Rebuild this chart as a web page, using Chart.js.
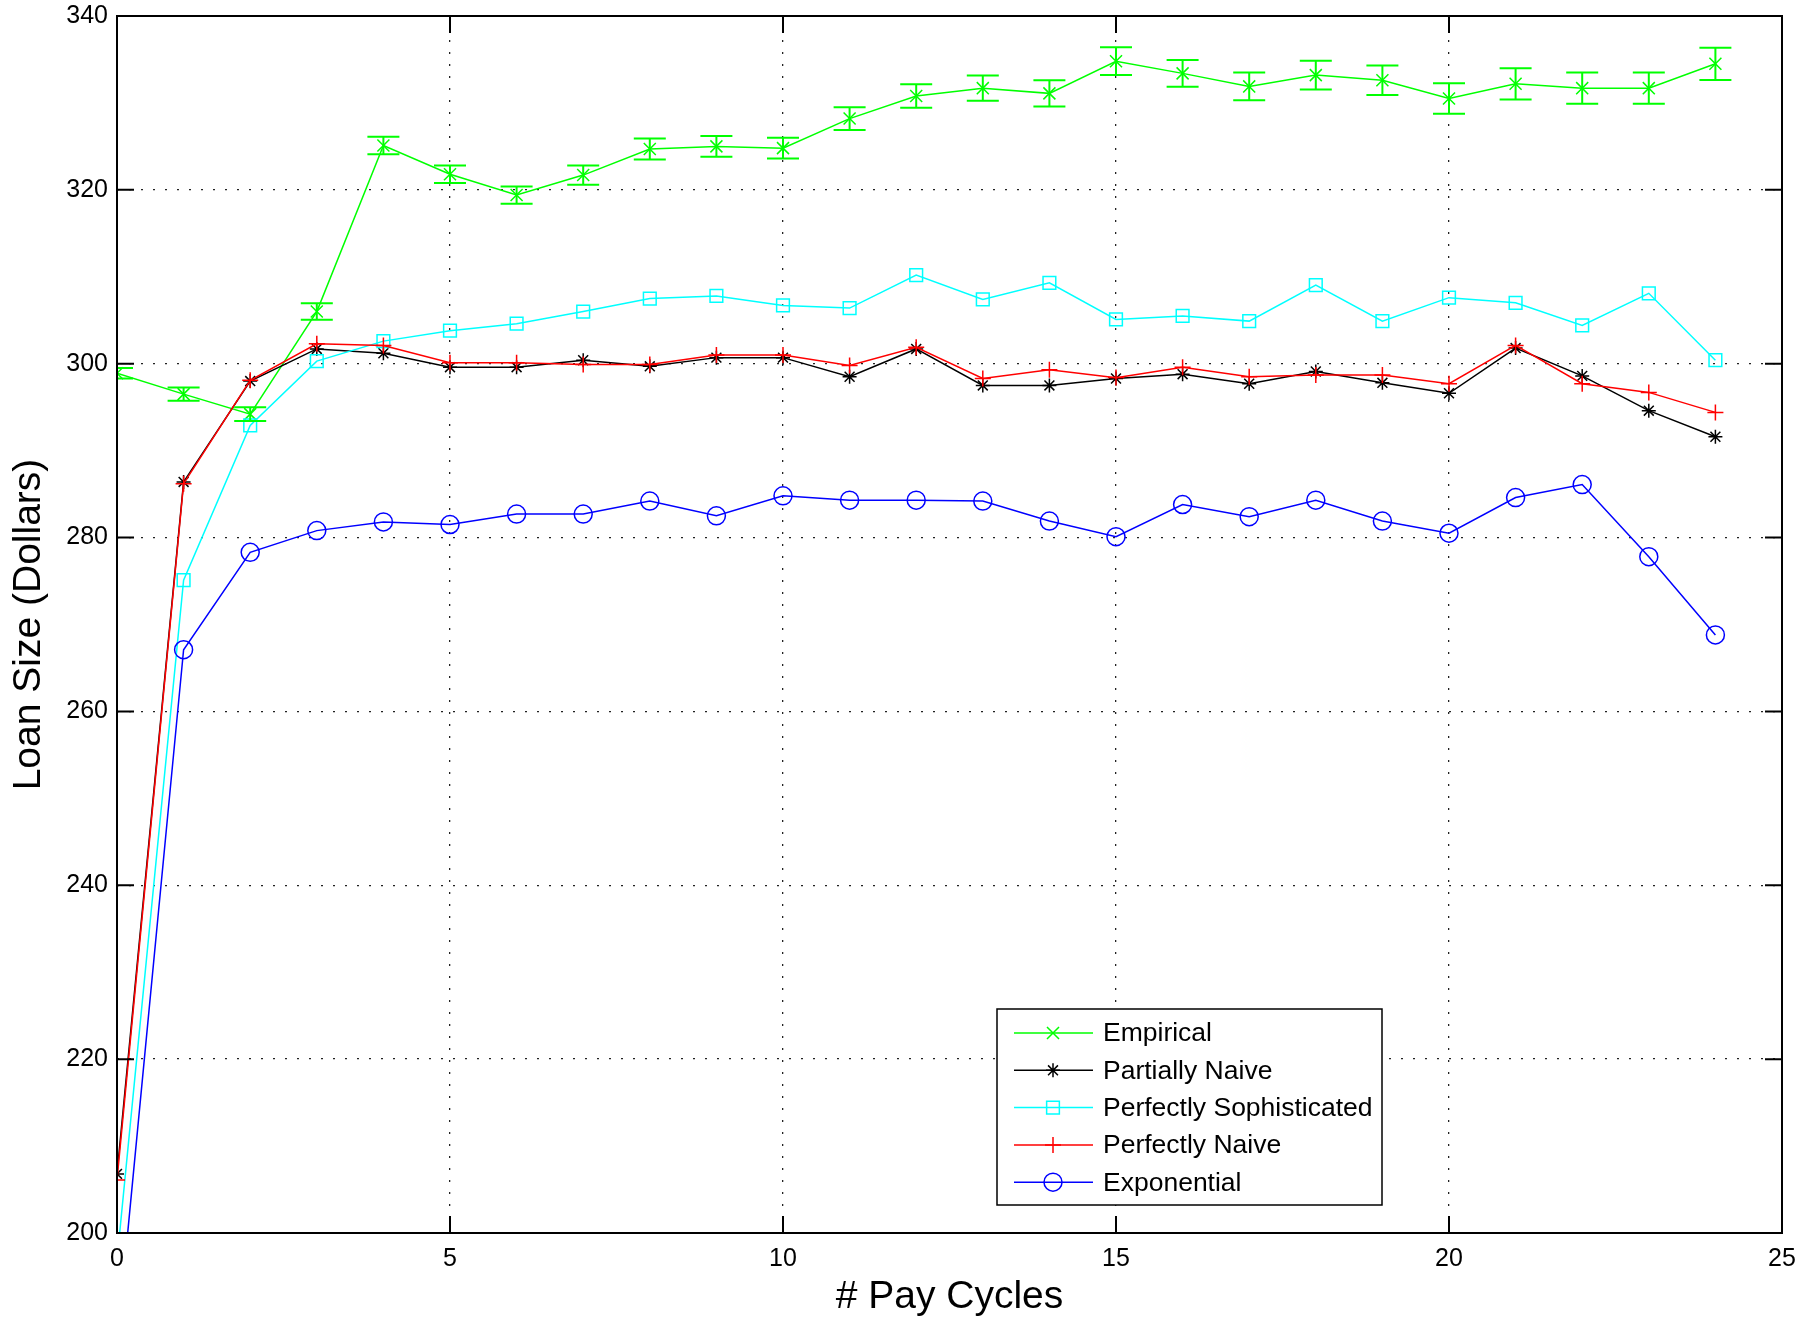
<!DOCTYPE html>
<html>
<head>
<meta charset="utf-8">
<script src="https://cdn.jsdelivr.net/npm/chart.js@4"></script>
<style>
  body { margin: 0; background: #fff; }
  canvas { display: block; }
</style>
</head>
<body>
<canvas id="loanChart" width="1817" height="1317"></canvas>
<script>
var cycles = [0, 1, 2, 3, 4, 5, 6, 7, 8, 9, 10, 11, 12, 13, 14, 15, 16, 17, 18, 19, 20, 21, 22, 23, 24];
var empirical = [298.9, 296.5, 294.2, 306.0, 325.1, 321.8, 319.4, 321.7, 324.7, 325.0, 324.8, 328.2, 330.8, 331.7, 331.1, 334.8, 333.4, 331.9, 333.2, 332.6, 330.5, 332.2, 331.7, 331.7, 334.5];
var empiricalErr = [0.6, 0.75, 0.8, 0.95, 1.0, 1.0, 1.0, 1.1, 1.2, 1.2, 1.2, 1.3, 1.35, 1.45, 1.5, 1.6, 1.55, 1.6, 1.65, 1.7, 1.75, 1.8, 1.8, 1.8, 1.85];
var partiallyNaive = [206.8, 286.4, 298.0, 301.7, 301.2, 299.6, 299.6, 300.4, 299.7, 300.7, 300.7, 298.5, 301.7, 297.5, 297.5, 298.3, 298.8, 297.7, 299.1, 297.8, 296.6, 301.8, 298.6, 294.6, 291.6];
var sophisticated = [196.9, 275.1, 292.9, 300.3, 302.6, 303.8, 304.6, 306.0, 307.5, 307.8, 306.7, 306.4, 310.2, 307.4, 309.3, 305.1, 305.5, 304.9, 309.05, 304.9, 307.6, 307.0, 304.4, 308.1, 300.4];
var perfectlyNaive = [206.1, 286.2, 298.1, 302.3, 302.1, 300.1, 300.1, 299.9, 299.9, 301.0, 301.0, 299.8, 301.9, 298.3, 299.3, 298.4, 299.6, 298.5, 298.7, 298.7, 297.7, 302.1, 297.7, 296.7, 294.4];
var exponential = [187.2, 267.1, 278.3, 280.8, 281.8, 281.5, 282.7, 282.7, 284.2, 282.5, 284.8, 284.3, 284.3, 284.2, 281.9, 280.1, 283.8, 282.4, 284.3, 281.9, 280.5, 284.6, 286.1, 277.8, 268.8];
var xTicks = [0, 5, 10, 15, 20, 25];
var yTicks = [200, 220, 240, 260, 280, 300, 320, 340];

var FONT = "'Liberation Sans', Arial, sans-serif";

function series(label, data, color, style, radius, order) {
  return {
    label: label,
    data: data,
    borderColor: color,
    backgroundColor: "rgba(0,0,0,0)",
    borderWidth: 1.5,
    pointStyle: style,
    pointRadius: radius,
    pointBorderColor: color,
    pointBackgroundColor: "rgba(0,0,0,0)",
    pointBorderWidth: 1.5,
    tension: 0,
    order: order
  };
}

var datasets = [
  series("Empirical", empirical, "#00ff00", "crossRot", 8.5, 5),
  series("Partially Naive", partiallyNaive, "#000000", "star", 7, 4),
  series("Perfectly Sophisticated", sophisticated, "#00ffff", "rect", 9, 3),
  series("Perfectly Naive", perfectlyNaive, "#ff0000", "cross", 8, 2),
  series("Exponential", exponential, "#0000ff", "circle", 9, 1)
];

// error bars on the empirical series
var errorBars = {
  id: "errorBars",
  afterDatasetsDraw: function (chart) {
    var ctx = chart.ctx;
    var xs = chart.scales.x, ys = chart.scales.y;
    ctx.save();
    ctx.beginPath();
    ctx.rect(chart.chartArea.left, chart.chartArea.top, chart.chartArea.width, chart.chartArea.height);
    ctx.clip();
    ctx.strokeStyle = "#00ff00";
    ctx.lineWidth = 2;
    for (var i = 0; i < cycles.length; i++) {
      var px = xs.getPixelForValue(cycles[i]);
      var top = ys.getPixelForValue(empirical[i] + empiricalErr[i]);
      var bot = ys.getPixelForValue(empirical[i] - empiricalErr[i]);
      ctx.beginPath();
      ctx.moveTo(px, top); ctx.lineTo(px, bot);
      ctx.moveTo(px - 16, top); ctx.lineTo(px + 16, top);
      ctx.moveTo(px - 16, bot); ctx.lineTo(px + 16, bot);
      ctx.stroke();
    }
    ctx.restore();
  }
};

// axes box, inward ticks and legend
var frame = {
  id: "frame",
  afterDraw: function (chart) {
    var ctx = chart.ctx;
    var a = chart.chartArea;
    var xs = chart.scales.x, ys = chart.scales.y;
    ctx.save();
    ctx.strokeStyle = "#000";
    ctx.lineWidth = 2;
    ctx.beginPath();
    xTicks.forEach(function (v) {
      var px = xs.getPixelForValue(v);
      ctx.moveTo(px, a.bottom); ctx.lineTo(px, a.bottom - 17);
      ctx.moveTo(px, a.top); ctx.lineTo(px, a.top + 17);
    });
    yTicks.forEach(function (v) {
      var py = ys.getPixelForValue(v);
      ctx.moveTo(a.left, py); ctx.lineTo(a.left + 17, py);
      ctx.moveTo(a.right, py); ctx.lineTo(a.right - 17, py);
    });
    ctx.stroke();
    ctx.strokeRect(a.left, a.top, a.right - a.left, a.bottom - a.top);

    // legend
    var lx = a.left + 880, ly = a.top + 993, lw = 385, lh = 196;
    ctx.fillStyle = "#fff";
    ctx.fillRect(lx, ly, lw, lh);
    ctx.lineWidth = 1.5;
    ctx.strokeRect(lx, ly, lw, lh);
    ctx.font = "26.5px " + FONT;
    ctx.textBaseline = "middle";
    ctx.textAlign = "left";
    datasets.forEach(function (ds, i) {
      var ry = ly + 24 + i * 37.3;
      ctx.strokeStyle = ds.borderColor;
      ctx.lineWidth = 1.5;
      ctx.beginPath();
      ctx.moveTo(lx + 17, ry); ctx.lineTo(lx + 96, ry);
      ctx.stroke();
      ctx.fillStyle = "rgba(0,0,0,0)";
      Chart.helpers.drawPoint(ctx, {
        pointStyle: ds.pointStyle,
        radius: ds.pointRadius,
        borderWidth: 1.5,
        rotation: 0
      }, lx + 56, ry);
      ctx.fillStyle = "#000";
      ctx.fillText(ds.label, lx + 106, ry + 1);
    });
    ctx.restore();
  }
};

var ctx = document.getElementById("loanChart").getContext("2d");
var chart = new Chart(ctx, {
  type: "line",
  data: { labels: cycles, datasets: datasets },
  options: {
    responsive: false,
    animation: false,
    devicePixelRatio: 1,
    layout: { padding: { left: 0, top: 16, right: 35, bottom: 0 } },
    plugins: {
      legend: { display: false },
      tooltip: { enabled: false }
    },
    scales: {
      x: {
        type: "linear",
        min: 0,
        max: 25,
        afterFit: function (scale) {
          scale.height = 84;
          scale.paddingLeft = 0;
          scale.paddingRight = 0;
        },
        afterBuildTicks: function (scale) {
          scale.ticks = xTicks.map(function (v) { return { value: v }; });
        },
        ticks: { padding: 11, color: "#000", font: { family: FONT, size: 25 } },
        grid: { color: "#222", lineWidth: 1.3, drawTicks: false },
        border: { display: false, dash: [2, 10] },
        title: {
          display: true,
          text: "# Pay Cycles",
          color: "#000",
          font: { family: FONT, size: 39 },
          padding: { top: 0, bottom: -4 }
        }
      },
      y: {
        min: 200,
        max: 340,
        afterFit: function (scale) {
          scale.width = 117;
          scale.paddingTop = 0;
          scale.paddingBottom = 0;
        },
        afterBuildTicks: function (scale) {
          scale.ticks = yTicks.map(function (v) { return { value: v }; });
        },
        ticks: { padding: 9, color: "#000", font: { family: FONT, size: 25 } },
        grid: { color: "#222", lineWidth: 1.3, drawTicks: false },
        border: { display: false, dash: [2, 10] },
        title: {
          display: true,
          text: "Loan Size (Dollars)",
          color: "#000",
          font: { family: FONT, size: 39 },
          padding: { top: 6, bottom: 0 }
        }
      }
    }
  },
  plugins: [errorBars, frame]
});
</script>
</body>
</html>
